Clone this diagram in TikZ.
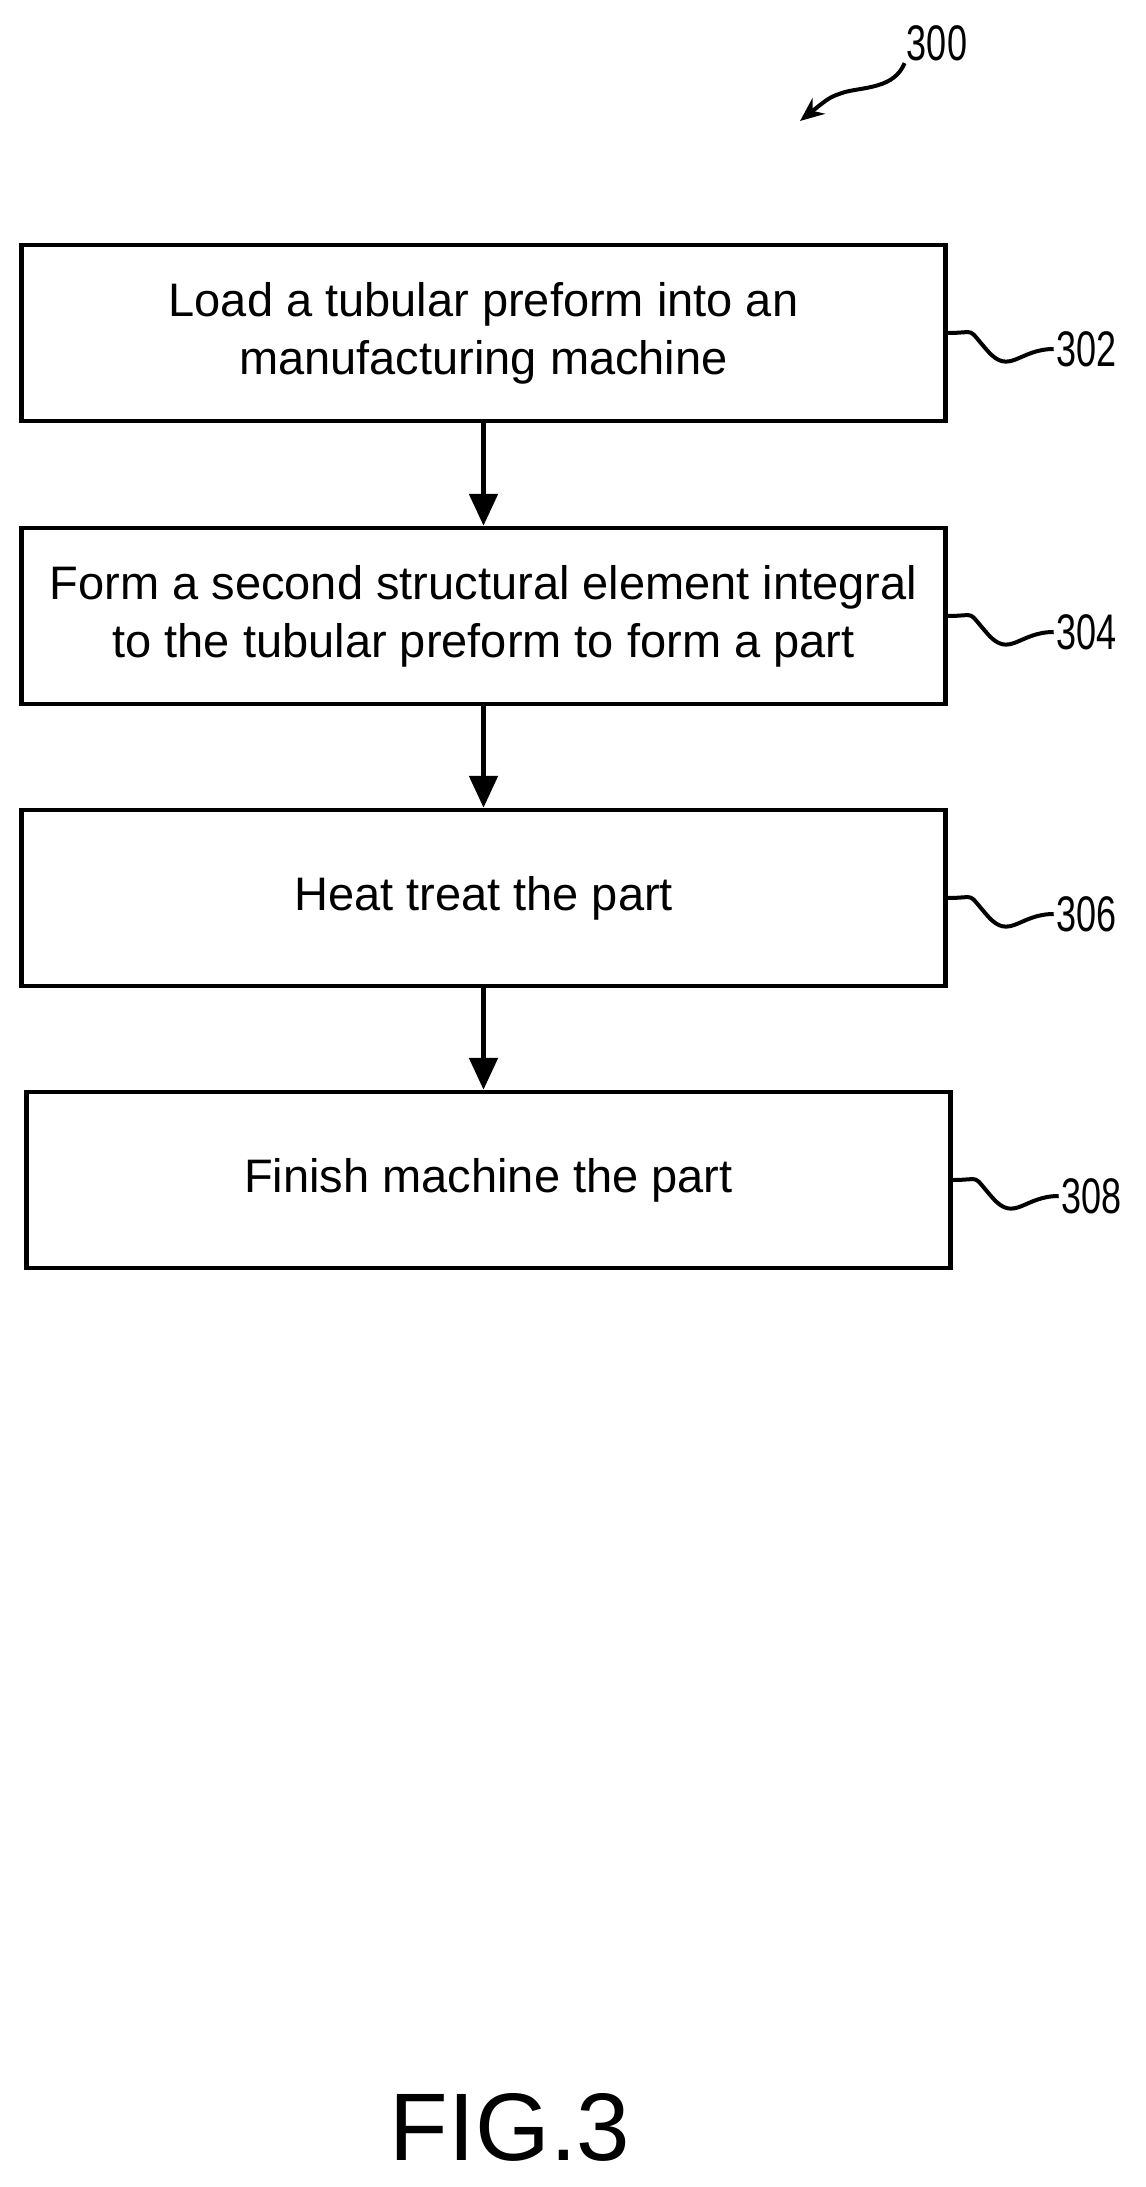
\documentclass[tikz,border=0pt]{standalone}
\usepackage{fontspec}
\setmainfont{Liberation Sans}
\usetikzlibrary{arrows.meta}
\begin{document}
\begin{tikzpicture}[x=0.5pt,y=-0.5pt,
  box/.style={draw,line width=2.2pt,minimum width=462pt,minimum height=88pt,align=center,font=\fontsize{23.5}{29}\selectfont,inner sep=0pt},
  arr/.style={line width=2.6pt,-{Triangle[length=16pt,width=14pt]}},
  sq/.style={line width=2pt},
  lab/.style={font=\fontsize{25}{25}\selectfont,inner sep=1pt}]
\useasboundingbox (0,0) rectangle (1145,2187);
\node[box] (b1) at (483.5,333) {Load a tubular preform into an\\manufacturing machine};
\node[box] (b2) at (483.5,616) {Form a second structural element integral\\to the tubular preform to form a part};
\node[box] (b3) at (483.5,898) {Heat treat the part};
\node[box] (b4) at (488.5,1180) {Finish machine the part};
\draw[arr] (b1) -- (b2);
\draw[arr] (b2) -- (b3);
\draw[arr] (b3.south) -- (b3.south |- b4.north);
\foreach \b/\n in {b1/302,b2/304,b3/306,b4/308}{
  \node[lab,anchor=west] (l\n) at ([xshift=53pt,yshift=-8pt]\b.east) {\scalebox{0.72}[1]{\n}};
  \draw[sq] (\b.east) .. controls +(30,0) and +(-22,-25) .. ++(40,18) .. controls +(22,25) and +(-35,0) .. (l\n.west);
}
\node[lab] (l300) at (937,43) {\scalebox{0.72}[1]{300}};
\coordinate (a300) at (800,121);
\draw[sq,-{Stealth[length=12pt,width=10pt]}] (l300.south west) .. controls +(-10,25) and +(20,-5) .. (845,92) .. controls +(-15,5) .. (a300);
\node[font=\fontsize{48}{48}\selectfont] (fig) at (510,2127) {FIG.3};
\end{tikzpicture}
\end{document}
